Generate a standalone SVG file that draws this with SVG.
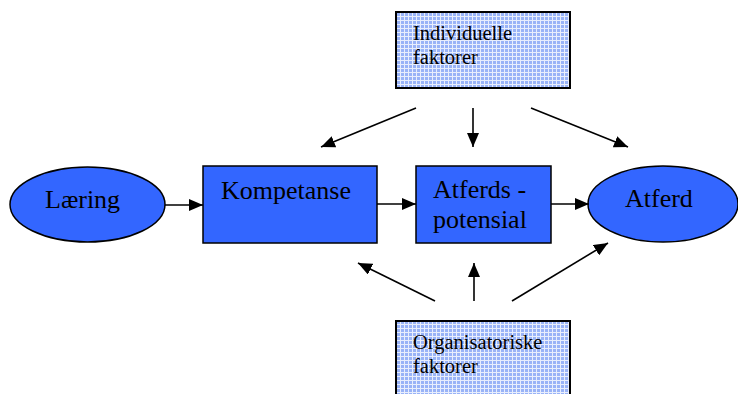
<svg xmlns="http://www.w3.org/2000/svg" width="738" height="394" viewBox="0 0 738 394">
  <style>
    .node { fill: #3366ff; stroke: #000; stroke-width: 1.5; }
    .factor { fill: url(#grid); stroke: #000; stroke-width: 2; }
    .lbl { font-family: "Liberation Serif", "Times New Roman", serif; font-size: 26px; fill: #000; }
    .small { font-family: "Liberation Serif", "Times New Roman", serif; font-size: 20.5px; fill: #000; }
    .conn line { stroke: #000; stroke-width: 1.6; marker-end: url(#head); }
  </style>
  <defs>
    <pattern id="grid" width="4" height="4" patternUnits="userSpaceOnUse">
      <rect width="4" height="4" fill="#99b3f7"/>
      <rect x="0" y="0" width="4" height="1" fill="#e8eefd"/>
      <rect x="0" y="0" width="1" height="4" fill="#e8eefd"/>
    </pattern>
    <marker id="head" viewBox="0 0 14 12" refX="14" refY="6" markerWidth="14" markerHeight="12" markerUnits="userSpaceOnUse" orient="auto">
      <path d="M0,0 L14,6 L0,12 Z" fill="#000"/>
    </marker>
  </defs>

  <g id="individuelle">
    <rect class="factor" x="396" y="12" width="174" height="76"/>
    <text class="small" x="413" y="40">Individuelle</text>
    <text class="small" x="413" y="64">faktorer</text>
  </g>

  <g id="organisatoriske">
    <rect class="factor" x="396" y="321" width="174" height="80"/>
    <text class="small" x="413" y="349">Organisatoriske</text>
    <text class="small" x="413" y="373">faktorer</text>
  </g>

  <g id="laering">
    <ellipse class="node" cx="87.5" cy="204.5" rx="77.5" ry="37.5"/>
    <text class="lbl" x="45" y="208">Læring</text>
  </g>

  <g id="kompetanse">
    <rect class="node" x="203" y="166" width="174" height="77"/>
    <text class="lbl" x="221" y="199">Kompetanse</text>
  </g>

  <g id="atferdspotensial">
    <rect class="node" x="416" y="166" width="135" height="77"/>
    <text class="lbl" x="433" y="198">Atferds -</text>
    <text class="lbl" x="433" y="228">potensial</text>
  </g>

  <g id="atferd">
    <ellipse class="node" cx="663" cy="204" rx="75" ry="38"/>
    <text class="lbl" x="625" y="207">Atferd</text>
  </g>

  <g id="connectors" class="conn">
    <line x1="165" y1="205" x2="203" y2="205"/>
    <line x1="377" y1="204" x2="416" y2="204"/>
    <line x1="551" y1="204" x2="589" y2="204"/>
    <line x1="416" y1="108" x2="321" y2="147"/>
    <line x1="473" y1="108" x2="473" y2="147"/>
    <line x1="531" y1="108" x2="628" y2="147"/>
    <line x1="435" y1="301" x2="358" y2="263"/>
    <line x1="474" y1="301" x2="474" y2="263"/>
    <line x1="512" y1="301" x2="608" y2="243"/>
  </g>
</svg>
